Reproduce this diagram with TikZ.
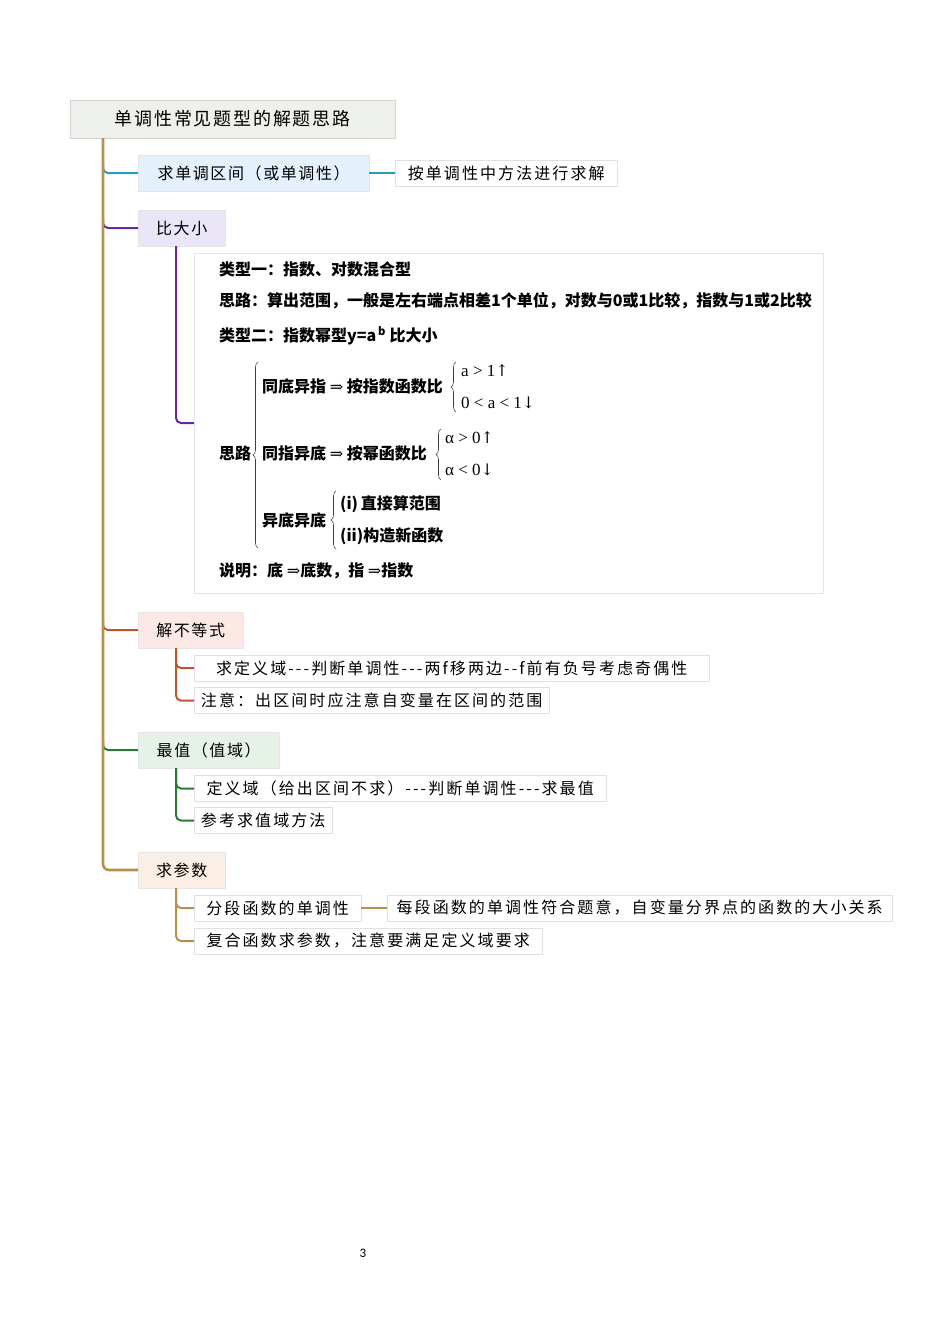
\documentclass[tikz,border=0pt]{standalone}
\usepackage{fontspec}
\setmainfont{Noto Sans CJK SC}
\newfontfamily\mapfont{Noto Sans CJK SC}[LetterSpace=10]
\newfontfamily\leafspace{Noto Sans CJK SC}[LetterSpace=13]
\newfontfamily\latinfont{Liberation Serif}
\newfontfamily\symfont{DejaVu Serif}
\newfontfamily\pagefont{Carlito}
\usetikzlibrary{positioning,decorations.pathreplacing}

\definecolor{trunkgold}{RGB}{181,145,76}
\definecolor{lineteal}{RGB}{43,154,192}
\definecolor{linepurple}{RGB}{98,42,158}
\definecolor{linerust}{RGB}{186,86,42}
\definecolor{linegreen}{RGB}{42,122,56}
\definecolor{fillroot}{RGB}{237,240,235}
\definecolor{fillblue}{RGB}{228,240,252}
\definecolor{filllilac}{RGB}{234,230,247}
\definecolor{fillrose}{RGB}{252,233,229}
\definecolor{fillmint}{RGB}{230,241,231}
\definecolor{fillpeach}{RGB}{251,239,229}

\newcommand\rootfont{\mapfont\fontsize{18}{20}\selectfont}
\newcommand\topicfont{\mapfont\fontsize{16}{18}\selectfont}
\newcommand\leaffont{\leafspace\fontsize{16}{18}\selectfont}
\newcommand\notefont{\fontsize{16}{18}\selectfont\bfseries}
\newcommand\imp{{\symfont\mdseries ⇒}}
\newcommand\up{{\symfont\mdseries ↑}}
\newcommand\dn{{\symfont\mdseries ↓}}
\newcommand\lat[1]{{\latinfont\mdseries\fontsize{17}{18}\selectfont #1}}

\begin{document}
\begin{tikzpicture}[x=1pt, y=-1pt,
  trunk/.style={draw=trunkgold, line width=2.6pt, rounded corners=6pt},
  twig/.style={draw=#1, line width=2pt, rounded corners=5pt},
  topic/.style={anchor=west, fill=#1, draw=black!10, minimum height=36pt, inner sep=0pt, font=\topicfont},
  leaf/.style={anchor=west, fill=white, draw=black!12, minimum height=26pt, inner sep=0pt, font=\leaffont},
  note/.style={anchor=west, inner sep=0pt, font=\notefont},
  brc/.style={decorate, decoration={brace, amplitude=5pt}, draw=black!75, line width=0.6pt}]
  \useasboundingbox (0,0) rectangle (950,1344);

  \node[anchor=west, fill=fillroot, draw=black!18, minimum width=325pt, minimum height=38pt, inner sep=0pt, font=\rootfont]
    (root) at (70,119) {单调性常见题型的解题思路};

  % topics
  \node[topic=fillblue, minimum width=231pt] (mono) at (138,173) {求单调区间（或单调性）};
  \node[topic=filllilac, minimum width=87pt] (cmp) at (138,228) {比大小};
  \node[topic=fillrose, minimum width=105pt] (ineq) at (138,630) {解不等式};
  \node[topic=fillmint, minimum width=141pt] (extr) at (138,750) {最值（值域）};
  \node[topic=fillpeach, minimum width=87pt] (param) at (138,870) {求参数};

  % leaves
  \node[leaf, minimum width=222pt] (monoA) at (395,173) {按单调性中方法进行求解};
  \node[leaf, minimum width=515pt] (ineqA) at (194,668) {求定义域---判断单调性---两f移两边--f前有负号考虑奇偶性};
  \node[leaf, minimum width=355pt] (ineqB) at (194,700.5) {注意：出区间时应注意自变量在区间的范围};
  \node[leaf, minimum width=412pt] (extrA) at (194,788.5) {定义域（给出区间不求）---判断单调性---求最值};
  \node[leaf, minimum width=138pt] (extrB) at (194,820.5) {参考求值域方法};
  \node[leaf, minimum width=167pt] (paramA) at (194,908) {分段函数的单调性};
  \node[leaf, minimum width=505pt] (paramAA) at (387,908) {每段函数的单调性符合题意，自变量分界点的函数的大小关系};
  \node[leaf, minimum width=348pt] (paramB) at (194,941) {复合函数求参数，注意要满足定义域要求};

  % the note box of 比大小
  \node[anchor=west, draw=black!10, fill=white, minimum width=629pt, minimum height=340pt, inner sep=0pt]
    (cmpbox) at (194,423) {};
  \node[note] (t1) at (219,269) {类型一：指数、对数混合型};
  \node[note] (t2) at (219,301) {思路：算出范围，一般是左右端点相差1个单位，对数与0或1比较，指数与1或2比较};
  \node[note] (t3) at (219,336) {类型二：指数幂型y=a\textsuperscript{\,b} 比大小};
  \node[note] (sl) at (219,453) {思路};
  \node[note] (sa) at (262,386) {同底异指 \imp{} 按指数函数比};
  \node[note] (sa1) at (461,371) {\lat{a > 1}\up};
  \node[note] (sa2) at (461,403) {\lat{0 < a < 1}\dn};
  \node[note] (sb) at (262,453) {同指异底 \imp{} 按幂函数比};
  \node[note] (sb1) at (445,438) {\lat{α > 0}\up};
  \node[note] (sb2) at (445,470) {\lat{α < 0}\dn};
  \node[note] (sc) at (262,520) {异底异底};
  \node[note] (sc1) at (340,504) {(i)\,直接算范围};
  \node[note] (sc2) at (340,536) {(ii)构造新函数};
  \node[note] (t4) at (219,571) {说明：底 \imp{}底数，指 \imp{}指数};
  \draw[brc] (258,548) -- (258,362);
  \draw[brc] (456,412) -- (456,362);
  \draw[brc] (441,480) -- (441,429);
  \draw[brc] (336,549) -- (336,491);

  % connectors
  \coordinate (tr) at (103,138);
  \coordinate (k1) at (103,163);
  \coordinate (k2) at (103,218);
  \coordinate (k3) at (103,620);
  \coordinate (k4) at (103,740);
  \draw[twig=lineteal] (k1) |- (mono.west);
  \draw[twig=lineteal] (mono.east) -- (monoA.west);
  \draw[twig=linepurple] (k2) |- (cmp.west);
  \draw[twig=linepurple] (cmp.south west) ++(38,0) |- (cmpbox.west);
  \draw[twig=linerust] (k3) |- (ineq.west);
  \draw[twig=linerust] (ineq.south west) ++(38,0) |- (ineqA.west);
  \draw[twig=linerust] (ineq.south west) ++(38,0) |- (ineqB.west);
  \draw[twig=linegreen] (k4) |- (extr.west);
  \draw[twig=linegreen] (extr.south west) ++(38,0) |- (extrA.west);
  \draw[twig=linegreen] (extr.south west) ++(38,0) |- (extrB.west);
  \draw[trunk] (tr) |- (param.west);
  \draw[twig=trunkgold] (param.south west) ++(38,0) |- (paramA.west);
  \draw[twig=trunkgold] (param.south west) ++(38,0) |- (paramB.west);
  \draw[twig=trunkgold] (paramA.east) -- (paramAA.west);

  \node[font=\pagefont\fontsize{13}{15}\selectfont] (pg) at (363,1253) {3};
\end{tikzpicture}
\end{document}
